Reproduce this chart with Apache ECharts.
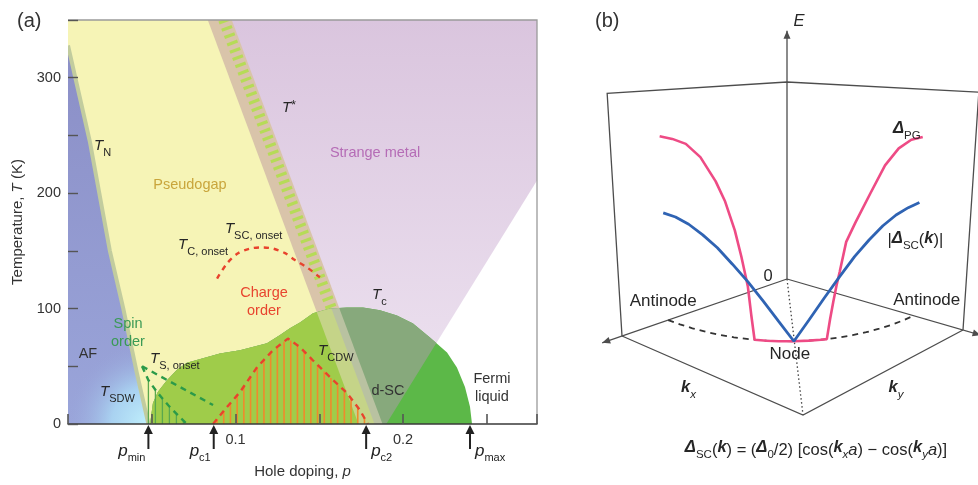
<!DOCTYPE html>
<html>
<head>
<meta charset="utf-8">
<script src="https://cdn.jsdelivr.net/npm/echarts@6/dist/echarts.min.js"></script>
<style>
html,body{margin:0;padding:0;background:#ffffff;}
#chart{width:978px;height:485px;}
</style>
</head>
<body>
<div id="chart"></div>
<script>
// ================= DATA: panel (a) phase diagram =================
const xTickLabels = [0.1, 0.2];
const yTickLabels = [0, 100, 200, 300];
// T_N  (antiferromagnet boundary)
const tnP = [0.000, 0.013, 0.025, 0.033, 0.041, 0.048];
const tnT = [328, 245, 150, 100, 45, 0];
// T*  (pseudogap line)
const tStarP = [0.093, 0.183];
const tStarT = [350, 0];
// strange metal / Fermi liquid crossover
const crossP = [0.280, 0.190];
const crossT = [211, 0];
// superconducting region envelope (T_c)
const domeP = [0.049, 0.0507, 0.0537, 0.0591, 0.0651, 0.071, 0.0806, 0.0907, 0.1027, 0.1188, 0.1266, 0.1325, 0.1385, 0.1463, 0.1564, 0.1666, 0.1761, 0.1863, 0.1964, 0.206, 0.2161, 0.2263, 0.2322, 0.237, 0.240, 0.2412];
const domeT = [0, 18, 28, 38, 47, 53, 57, 61, 64, 70, 77, 83, 88, 96, 100, 101, 101, 98.5, 94, 87, 75, 62, 49, 32, 15, 0];
// T_CDW
const cdwP = [0.0866, 0.0949, 0.1027, 0.1128, 0.1224, 0.1313, 0.1385, 0.1463, 0.1564, 0.1666, 0.1743, 0.179];
const cdwT = [0, 14.7, 27.7, 49, 64, 74, 66.6, 55, 40.6, 26.8, 12, 0];
// T_C,onset (charge order onset)
const coP = [0.089, 0.0949, 0.1015, 0.1087, 0.1158, 0.1224, 0.1296, 0.1355, 0.1433, 0.1504];
const coT = [126, 139, 148, 152, 153, 152, 148, 142, 135, 127];
// T_S,onset (two spin-order lines)
const ts1P = [0.0442, 0.0866];
const ts1T = [50, 16.4];
const ts2P = [0.0442, 0.048, 0.0535, 0.060, 0.066, 0.071];
const ts2T = [50, 38, 27, 16, 7, 0];
// special dopings marked by arrows
const markerP = [0.048, 0.087, 0.178, 0.240];
const markerSub = ['min', 'c1', 'c2', 'max'];
// text annotations (anchor in p, T)
const annText = ['{t|T}{s|N}', '{t|T}{sup|*}', 'Strange metal', 'Pseudogap', '{t|T}{s|SC, onset}', '{t|T}{s|C, onset}', 'Charge\norder', '{t|T}{s|c}', 'Spin\norder', 'AF', '{t|T}{s|S, onset}', '{t|T}{s|SDW}', '{t|T}{s|CDW}', 'd-SC', 'Fermi\nliquid'];
const annP = [0.0155, 0.1278, 0.1833, 0.0728, 0.0937, 0.0657, 0.117, 0.1815, 0.0358, 0.0119, 0.049, 0.0191, 0.1493, 0.191, 0.2531];
const annT = [239, 272, 235, 207, 167, 153, 106, 110, 79, 61, 54, 26, 61, 29, 31];

// ================= DATA: panel (b) gaps along the Fermi surface =================
const fsRadius = 0.72;
const fsAngle = [0, 5, 10, 15, 20, 25, 30, 35, 40, 45, 50, 55, 60, 65, 70, 75, 80, 85, 90];
const pgAngle = [0, 5, 10, 15, 20, 23, 26, 28, 30, 31, 32, 36, 40, 45, 50, 54, 56, 57, 58, 59, 60, 62, 65, 70, 75, 80, 85, 90];
const pgGap   = [0.80, 0.795, 0.78, 0.73, 0.635, 0.555, 0.44, 0.335, 0.215, 0.10, 0, 0, 0, 0, 0, 0, 0, 0.08, 0.15, 0.215, 0.27, 0.39, 0.465, 0.58, 0.69, 0.755, 0.785, 0.79];
const scAngle = [0, 5, 10, 15, 20, 25, 30, 35, 40, 45, 50, 55, 60, 65, 70, 75, 80, 85, 90];
const scGap   = [0.466, 0.46, 0.44, 0.405, 0.36, 0.30, 0.235, 0.16, 0.08, 0, 0.085, 0.17, 0.25, 0.325, 0.385, 0.435, 0.47, 0.49, 0.50];

// ================= helpers =================
const FONT = '"Liberation Sans", Arial, Helvetica, sans-serif';
const INK = '#262626';

function clipConvex(subject, clip) {
  let area = 0;
  for (let i = 0; i < clip.length; i++) {
    const a = clip[i], b = clip[(i + 1) % clip.length];
    area += a[0] * b[1] - b[0] * a[1];
  }
  const sgn = area > 0 ? 1 : -1;
  let out = subject.slice();
  for (let i = 0; i < clip.length && out.length; i++) {
    const A = clip[i], B = clip[(i + 1) % clip.length];
    const inside = P => sgn * ((B[0] - A[0]) * (P[1] - A[1]) - (B[1] - A[1]) * (P[0] - A[0])) >= 0;
    const inter = (P, Q) => {
      const x1 = P[0], y1 = P[1], x2 = Q[0], y2 = Q[1], x3 = A[0], y3 = A[1], x4 = B[0], y4 = B[1];
      const d = (x1 - x2) * (y3 - y4) - (y1 - y2) * (x3 - x4);
      const t = ((x1 - x3) * (y3 - y4) - (y1 - y3) * (x3 - x4)) / d;
      return [x1 + t * (x2 - x1), y1 + t * (y2 - y1)];
    };
    const inp = out; out = [];
    for (let j = 0; j < inp.length; j++) {
      const P = inp[j], Q = inp[(j + 1) % inp.length];
      const pi = inside(P), qi = inside(Q);
      if (pi) { out.push(P); if (!qi) out.push(inter(P, Q)); }
      else if (qi) { out.push(inter(P, Q)); }
    }
  }
  return out;
}
function polyEl(points, fill) { return { type: 'polygon', shape: { points: points }, style: { fill: fill } }; }
function lineEl(points, stroke, width, dash) {
  const st = { fill: 'none', stroke: stroke, lineWidth: width };
  if (dash) st.lineDash = dash;
  return { type: 'polyline', shape: { points: points }, style: st };
}
function arrowHead(tip, from, len, hw, color) {
  const dx = tip[0] - from[0], dy = tip[1] - from[1], L = Math.hypot(dx, dy);
  const ux = dx / L, uy = dy / L;
  const bx = tip[0] - ux * len, by = tip[1] - uy * len;
  return polyEl([tip, [bx - uy * hw, by + ux * hw], [bx + uy * hw, by - ux * hw]], color);
}
const lineAt = (P, T, t) => P[0] + (P[1] - P[0]) * (t - T[0]) / (T[1] - T[0]);

// ---------- panel (a) renderers ----------
function renderRegions(params, api) {
  const c = (p, T) => api.coord([p, T]);
  const tsAt = T => lineAt(tStarP, tStarT, T);
  const crAt = T => lineAt(crossP, crossT, T);
  const crTAt = p => lineAt(crossT, crossP, p);
  const HI = 420, LO = -40, PL = -0.03, PR = 0.32;
  const yTop = c(0, 350)[1], yBot = c(0, 0)[1];
  const ch = [];
  // pseudogap (yellow)
  ch.push(polyEl([c(PL, HI), c(tsAt(HI), HI), c(tsAt(LO), LO), c(PL, LO)], '#f6f4b6'));
  // strange metal fan
  ch.push(polyEl([c(tsAt(HI), HI), c(PR, HI), c(PR, crTAt(PR)), c(crAt(0), 0), c(tsAt(0), 0)],
    new echarts.graphic.LinearGradient(0, yTop, 0, yBot, [{ offset: 0, color: '#dac5de' }, { offset: 1, color: '#eee4f1' }], true)));
  // T* band
  const A = c(tsAt(HI), HI), B = c(tsAt(LO), LO);
  const dx = B[0] - A[0], dy = B[1] - A[1], len = Math.hypot(dx, dy);
  const nx = -dy / len, ny = dx / len;
  const off = (pt, d) => [pt[0] + nx * d, pt[1] + ny * d];
  const band = [off(A, 15), off(B, 15), off(B, -7.5), off(A, -7.5)];
  ch.push(polyEl(band, '#d9c4aa'));
  ch.push(lineEl([A, B], '#b6db57', 11, [3.2, 4.6]));
  // AF region
  const tn = tnP.map((p, i) => c(p, tnT[i]));
  const af = tn.concat([c(0, 0)]);
  ch.push(polyEl(af, new echarts.graphic.LinearGradient(0, yTop, 0, yBot, [{ offset: 0, color: '#8a8dc5' }, { offset: 1, color: '#9aa5da' }], true)));
  const corner = tn[tn.length - 1];
  ch.push(polyEl(af, new echarts.graphic.RadialGradient(corner[0], corner[1], 82,
    [{ offset: 0, color: 'rgba(192,240,252,1)' }, { offset: 0.45, color: 'rgba(172,218,245,0.85)' }, { offset: 1, color: 'rgba(152,164,218,0)' }], true)));
  ch.push(lineEl(tn, '#c2cc9e', 4));
  // superconducting region, coloured by what lies beneath
  const dome = domeP.map((p, i) => c(p, domeT[i]));
  ch.push(polyEl(dome, '#5cb848'));
  const leftCross = [c(PL, LO), c(crAt(LO), LO), c(crAt(HI), HI), c(PL, HI)];
  const d1 = clipConvex(dome, leftCross); if (d1.length > 2) ch.push(polyEl(d1, '#87a97c'));
  const leftStar = [c(PL, LO), c(tsAt(LO), LO), c(tsAt(HI), HI), c(PL, HI)];
  const d2 = clipConvex(dome, leftStar); if (d2.length > 2) ch.push(polyEl(d2, '#9fcc4a'));
  const d3 = clipConvex(dome, band); if (d3.length > 2) ch.push(polyEl(d3, 'rgba(236,220,198,0.5)'));
  return { type: 'group', children: ch };
}
function addHatch(ch, pts, base, startX, color, width, step) {
  for (let x = startX; x < pts[pts.length - 1][0]; x += step) {
    for (let k = 0; k < pts.length - 1; k++) {
      if (x >= pts[k][0] && x <= pts[k + 1][0]) {
        const f = (x - pts[k][0]) / (pts[k + 1][0] - pts[k][0]);
        const y = pts[k][1] + f * (pts[k + 1][1] - pts[k][1]);
        ch.push({ type: 'line', shape: { x1: x, y1: base, x2: x, y2: y }, style: { stroke: color, lineWidth: width } });
        break;
      }
    }
  }
}
function renderHatch(params, api) {
  const ch = [];
  const base = api.coord([0, 0])[1];
  const cdw = cdwP.map((p, i) => api.coord([p, cdwT[i]]));
  addHatch(ch, cdw, base, cdw[0][0] + 4, '#f08a2c', 1.6, 6.7);
  const ts2 = ts2P.map((p, i) => api.coord([p, ts2T[i]]));
  addHatch(ch, ts2, base, api.coord([markerP[0], 0])[0], '#5aa84e', 1.3, 7);
  return { type: 'group', children: ch };
}
const richA = {
  t: { fontSize: 15, fontStyle: 'italic', fontFamily: FONT, fill: INK, lineHeight: 20, verticalAlign: 'top' },
  s: { fontSize: 11, fontFamily: FONT, fill: INK, lineHeight: 9, verticalAlign: 'bottom' },
  sup: { fontSize: 12, fontFamily: FONT, fill: INK, lineHeight: 12, verticalAlign: 'top' }
};
const annLook = [
  ['left', INK], ['left', INK], ['center', '#b56cb6'], ['center', '#c9a53c'], ['left', INK], ['left', INK],
  ['center', '#e8452f'], ['left', INK], ['center', '#3a9a55'], ['center', '#333'], ['left', INK], ['left', INK],
  ['left', INK], ['center', '#333'], ['center', '#333']
];
function renderAnn(params, api) {
  const ch = annText.map((txt, i) => {
    const pt = api.coord([annP[i], annT[i]]);
    return { type: 'text', x: pt[0], y: pt[1], style: {
      text: txt, rich: richA, fill: annLook[i][1], fontSize: 14.5, fontFamily: FONT, lineHeight: 18,
      align: annLook[i][0], verticalAlign: 'middle' } };
  });
  return { type: 'group', children: ch };
}
function renderMarkers(params, api) {
  const ch = [];
  markerP.forEach((p, i) => {
    const b = api.coord([p, 0]);
    const x = b[0], y = b[1];
    ch.push(lineEl([[x, y + 8], [x, y + 25]], '#222', 2));
    ch.push(arrowHead([x, y + 1], [x, y + 25], 9, 4.5, '#222'));
    const left = i < 2;
    ch.push({ type: 'text', x: left ? x - 3 : x + 5, y: y + 19, style: {
      text: '{p|p}{s|' + markerSub[i] + '}', align: left ? 'right' : 'left', verticalAlign: 'top',
      rich: { p: { fontSize: 17, fontStyle: 'italic', fontFamily: FONT, fill: '#222', lineHeight: 20, verticalAlign: 'top' },
              s: { fontSize: 11, fontFamily: FONT, fill: '#222', lineHeight: 10, verticalAlign: 'bottom' } } } });
  });
  return { type: 'group', children: ch };
}
function renderFrame(params, api) {
  return lineEl([api.coord([0, 350]), api.coord([0.28, 350]), api.coord([0.28, 0])], '#9a9a9a', 1.3);
}

// ---------- panel (b) projection (layout of the schematic box) ----------
const PROJ = { O: [787, 279], L: [622, 336], R: [963, 330], F: [803, 415], persp: 0.09, eUnit: 197, depth: 0.00406 };
function project(s, t, E) {
  const O = PROJ.O, L = PROJ.L, R = PROJ.R, F = PROJ.F;
  const fx = O[0] * (1 - s) * (1 - t) + L[0] * s * (1 - t) + R[0] * (1 - s) * t + F[0] * s * t;
  const fy = O[1] * (1 - s) * (1 - t) + L[1] * s * (1 - t) + R[1] * (1 - s) * t + F[1] * s * t;
  return [fx + (fx - O[0]) * PROJ.persp * E, fy - E * PROJ.eUnit * (1 + (fy - O[1]) * PROJ.depth)];
}
function fsPoint(angleDeg, E) {
  const a = angleDeg * Math.PI / 180;
  return project(fsRadius * Math.cos(a), fsRadius * Math.sin(a), E);
}
function renderBox(params, api) {
  const P = (s, t, E) => api.coord(project(s, t, E));
  const ink = '#4d4d4d';
  const ch = [];
  ch.push(lineEl([P(1, 0, 0), P(1, 1, 0), P(0, 1, 0)], ink, 1.3));
  ch.push(lineEl([P(1, 0, 0), P(1, 0, 1), P(0, 0, 1), P(0, 1, 1), P(0, 1, 0)], ink, 1.3));
  ch.push(lineEl([P(0, 0, 0), P(1.12, 0, 0)], ink, 1.3));
  ch.push(arrowHead(P(1.12, 0, 0), P(1, 0, 0), 8, 3.5, ink));
  ch.push(lineEl([P(0, 0, 0), P(0, 1.1, 0)], ink, 1.3));
  ch.push(arrowHead(P(0, 1.1, 0), P(0, 1, 0), 8, 3.5, ink));
  ch.push(lineEl([P(0, 0, 0), P(0, 0, 1.26)], ink, 1.3));
  ch.push(arrowHead(P(0, 0, 1.26), P(0, 0, 1), 8, 3.5, ink));
  ch.push(lineEl([P(0, 0, 0), P(1, 1, 0)], '#444', 1.3, [1.5, 2.5]));
  ch.push(lineEl(fsAngle.map(a => api.coord(fsPoint(a, 0))), '#333', 1.8, [6, 5]));
  return { type: 'group', children: ch };
}
const richB = {
  n: { fontSize: 17, fontFamily: FONT, fill: INK },
  f: { fontSize: 16.5, fontFamily: FONT, fill: INK },
  i: { fontSize: 16.5, fontStyle: 'italic', fontFamily: FONT, fill: INK },
  d: { fontSize: 16.5, fontStyle: 'italic', fontWeight: 'bold', fontFamily: FONT, fill: INK, lineHeight: 22, verticalAlign: 'top' },
  k: { fontSize: 16.5, fontStyle: 'italic', fontWeight: 'bold', fontFamily: FONT, fill: INK, lineHeight: 22, verticalAlign: 'top' },
  s: { fontSize: 11.5, fontFamily: FONT, fill: INK, lineHeight: 10, verticalAlign: 'bottom' },
  si: { fontSize: 11.5, fontStyle: 'italic', fontFamily: FONT, fill: INK, lineHeight: 10, verticalAlign: 'bottom' }
};
function renderBLabels(params, api) {
  const items = [
    [project(0, 0, 1.26), 12, -9, '{i|E}'],
    [project(0, 0, 0), -19, -3, '{f|0}'],
    [fsPoint(0, 0), -5, -19, '{n|Antinode}'],
    [fsPoint(90, 0), 13, -15, '{n|Antinode}'],
    [fsPoint(45, 0), -4, 13, '{n|Node}'],
    [project(1, 0.5, 0), -24, 14, '{k|k}{si|x}'],
    [project(0.5, 1, 0), 13, 17, '{k|k}{si|y}'],
    [fsPoint(90, pgGap[pgGap.length - 1]), -16, -6, '{d|Δ}{s|PG}'],
    [fsPoint(90, scGap[scGap.length - 1]), -4, 38, '{f||}{d|Δ}{s|SC}{f|(}{k|k}{f|)|}'],
    [project(1, 1, 0), 13, 35, '{d|Δ}{s|SC}{f|(}{k|k}{f|) = (}{d|Δ}{s|0}{f|/2) [cos(}{k|k}{si|x}{i|a}{f|) − cos(}{k|k}{si|y}{i|a}{f|)]}']
  ];
  const ch = items.map(it => {
    const pt = api.coord(it[0]);
    return { type: 'text', x: pt[0] + it[1], y: pt[1] + it[2], style: {
      text: it[3], rich: richB, fontSize: 16, fontFamily: FONT, fill: INK, align: 'center', verticalAlign: 'middle' } };
  });
  return { type: 'group', children: ch };
}

// ================= chart =================
const chart = echarts.init(document.getElementById('chart'), null, { renderer: 'canvas', width: 978, height: 485 });
const near = (v, arr) => arr.some(t => Math.abs(t - v) < 1e-6);
const option = {
  animation: false,
  backgroundColor: '#ffffff',
  textStyle: { fontFamily: FONT },
  graphic: [
    { type: 'text', left: 17, top: 11, style: { text: '(a)', fontSize: 20, fill: '#333', fontFamily: FONT } },
    { type: 'text', left: 595, top: 11, style: { text: '(b)', fontSize: 20, fill: '#333', fontFamily: FONT } }
  ],
  grid: [
    { left: 68, top: 20, width: 469, height: 404 },
    { left: 0, top: 0, width: 978, height: 485 }
  ],
  xAxis: [
    { gridIndex: 0, type: 'value', min: 0, max: 0.28, interval: 0.05, z: 10,
      axisLine: { show: true, onZero: false, lineStyle: { color: '#3a3a3a', width: 1.6 } },
      axisTick: { show: true, inside: true, length: 10, lineStyle: { color: '#555', width: 1.6 } },
      axisLabel: { color: '#333', fontSize: 14.5, margin: 8, formatter: v => near(v, xTickLabels) ? v.toFixed(1) : '' },
      splitLine: { show: false },
      name: '{n|Hole doping, }{i|p}', nameLocation: 'middle', nameGap: 40,
      nameTextStyle: { rich: { n: { fontSize: 15, color: '#333' }, i: { fontSize: 15, fontStyle: 'italic', color: '#333' } } } },
    { gridIndex: 1, type: 'value', min: 0, max: 978, show: false }
  ],
  yAxis: [
    { gridIndex: 0, type: 'value', min: 0, max: 350, interval: 50, z: 10,
      axisLine: { show: false },
      axisTick: { show: true, inside: true, length: 10, lineStyle: { color: '#555', width: 1.4 } },
      axisLabel: { color: '#333', fontSize: 14.5, margin: 7, formatter: v => near(v, yTickLabels) ? String(v) : '' },
      splitLine: { show: false },
      name: '{n|Temperature, }{i|T}{n| (K)}', nameLocation: 'middle', nameGap: 43,
      nameTextStyle: { rich: { n: { fontSize: 15, color: '#333' }, i: { fontSize: 15, fontStyle: 'italic', color: '#333' } } } },
    { gridIndex: 1, type: 'value', min: 0, max: 485, inverse: true, show: false }
  ],
  series: [
    { type: 'custom', name: 'regions', xAxisIndex: 0, yAxisIndex: 0, clip: true, z: 1, silent: true, data: [[0.1, 100]], renderItem: renderRegions },
    { type: 'custom', name: 'hatch', xAxisIndex: 0, yAxisIndex: 0, clip: true, z: 2, silent: true, data: [[0.1, 100]], renderItem: renderHatch },
    { type: 'line', name: 'T_CDW', xAxisIndex: 0, yAxisIndex: 0, z: 3, silent: true, symbol: 'none',
      data: cdwP.map((p, i) => [p, cdwT[i]]), lineStyle: { color: '#e8432d', width: 2.4, type: [6, 5] } },
    { type: 'line', name: 'T_C,onset', xAxisIndex: 0, yAxisIndex: 0, z: 3, silent: true, symbol: 'none', smooth: 0.3,
      data: coP.map((p, i) => [p, coT[i]]), lineStyle: { color: '#e8432d', width: 2.4, type: [5, 5] } },
    { type: 'line', name: 'T_S,onset 1', xAxisIndex: 0, yAxisIndex: 0, z: 3, silent: true, symbol: 'none',
      data: ts1P.map((p, i) => [p, ts1T[i]]), lineStyle: { color: '#2b9a49', width: 2.4, type: [6, 5] } },
    { type: 'line', name: 'T_S,onset 2', xAxisIndex: 0, yAxisIndex: 0, z: 3, silent: true, symbol: 'none',
      data: ts2P.map((p, i) => [p, ts2T[i]]), lineStyle: { color: '#2b9a49', width: 2.4, type: [6, 5] } },
    { type: 'custom', name: 'frame', xAxisIndex: 0, yAxisIndex: 0, clip: false, z: 5, silent: true, data: [[0.1, 100]], renderItem: renderFrame },
    { type: 'custom', name: 'labels a', xAxisIndex: 0, yAxisIndex: 0, clip: false, z: 6, silent: true, data: [[0.1, 100]], renderItem: renderAnn },
    { type: 'custom', name: 'markers', xAxisIndex: 0, yAxisIndex: 0, clip: false, z: 6, silent: true, data: [[0.1, 100]], renderItem: renderMarkers },
    { type: 'custom', name: 'box', xAxisIndex: 1, yAxisIndex: 1, clip: false, z: 2, silent: true, data: [[500, 200]], renderItem: renderBox },
    { type: 'line', name: 'Delta_PG', xAxisIndex: 1, yAxisIndex: 1, z: 3, silent: true, symbol: 'none', clip: false,
      data: pgAngle.map((a, i) => fsPoint(a, pgGap[i])), lineStyle: { color: '#ee4b85', width: 2.6 } },
    { type: 'line', name: '|Delta_SC|', xAxisIndex: 1, yAxisIndex: 1, z: 4, silent: true, symbol: 'none', clip: false,
      data: scAngle.map((a, i) => fsPoint(a, scGap[i])), lineStyle: { color: '#2f63b3', width: 2.8 } },
    { type: 'custom', name: 'labels b', xAxisIndex: 1, yAxisIndex: 1, clip: false, z: 6, silent: true, data: [[500, 200]], renderItem: renderBLabels }
  ]
};
chart.setOption(option);
</script>
</body>
</html>
